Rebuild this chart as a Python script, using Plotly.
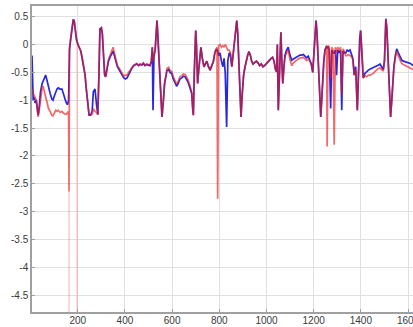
import plotly.graph_objects as go

# Sample positions shared by both series
x_vals = [
    6, 11, 15, 19, 24, 28, 32, 36, 42, 49, 53, 57, 64, 70, 76, 83, 90, 95, 101, 107,
    112, 117, 125, 133, 139, 146, 152, 157, 161,
    163, 165, 170, 176, 181, 185, 190, 195, 201, 207, 213, 218, 225, 231, 235, 239,
    243, 248, 254, 261, 266, 273, 280, 285, 290, 294, 300, 304, 308, 314, 318, 324,
    330, 338, 345, 350, 355, 362, 368, 375, 382, 388, 395, 402, 409, 416, 422, 430,
    437, 443, 450, 458, 464, 472, 478, 485, 492, 499, 506, 512, 516, 519, 523, 528,
    532, 536, 540, 545, 550, 557, 563, 568,
    578, 585, 591, 598, 605, 612, 619, 626, 633, 641, 648, 655, 661, 667, 675, 683,
    688, 690, 694, 698, 700, 703, 708, 713, 718, 722, 728, 735, 741, 747, 754, 761,
    768, 775, 781, 787, 790, 793, 797, 803, 809, 815, 820, 825, 831, 836, 842, 847,
    853, 858, 864, 870, 874, 878, 883, 888, 892, 897, 903, 909, 915, 921, 926, 932,
    937, 943, 950, 957, 964, 971, 978, 985, 992, 999, 1006, 1013, 1020, 1026, 1032,
    1038, 1043, 1046, 1050, 1055, 1061, 1065, 1069, 1074, 1078, 1085, 1092, 1100,
    1107, 1114, 1121, 1128, 1135, 1142, 1149, 1156, 1163, 1170, 1177, 1184, 1190,
    1196, 1202, 1206, 1210, 1214, 1219, 1224, 1230, 1234, 1238, 1243, 1248, 1252,
    1255, 1257, 1261, 1266, 1272, 1277, 1282, 1287, 1292, 1297, 1302, 1308, 1314,
    1319, 1324, 1330, 1336, 1342, 1348, 1354, 1360, 1366, 1372, 1378, 1385, 1390,
    1395, 1399, 1404, 1410, 1417, 1425, 1432, 1440, 1452, 1460, 1468, 1475, 1481,
    1488, 1495, 1500, 1503, 1506, 1510, 1516, 1521, 1526, 1531, 1536, 1540, 1546,
    1552, 1558, 1565, 1573, 1580, 1590, 1600, 1610, 1621,
]

blue_vals = [
    -0.2, -1.0, -0.95, -1.05, -1.0, -1.15, -1.27, -1.15, -0.85, -0.7, -0.65, -0.6, -0.55, -0.65, -0.78, -0.88, -0.98, -1.0, -0.92, -0.85,
    -0.8, -0.78, -0.8, -0.8, -0.9, -0.98, -1.05, -1.08, -1.0,
    -0.4, -0.1, 0.1, 0.35, 0.45, 0.42, 0.2, 0.08, 0.0, -0.05, -0.12, -0.23, -0.38, -0.55, -0.75, -0.94,
    -1.12, -1.27, -1.27, -1.2, -0.85, -0.8, -1.1, -1.26, -0.5, 0.28, 0.3, 0.2, -0.1, -0.55, -0.58, -0.4,
    -0.3, -0.22, -0.15, -0.12, -0.2, -0.32, -0.4, -0.45, -0.5, -0.56, -0.6, -0.62, -0.6, -0.54, -0.48, -0.42,
    -0.38, -0.37, -0.35, -0.38, -0.36, -0.37, -0.34, -0.38, -0.36, -0.37, -0.38, -0.3, -0.05, -1.18, -0.2, -0.1,
    0.2, 0.43, 0.1, -0.4, -0.9, -1.3, -1.0, -0.7,
    -0.47, -0.45, -0.5, -0.52, -0.62, -0.7, -0.75, -0.7, -0.62, -0.6, -0.57, -0.58, -0.62, -0.67, -0.77, -0.88,
    -1.2, -1.27, -0.5, 0.2, 0.25, 0.0, -0.7, -0.45, -0.15, -0.05, -0.25, -0.4, -0.35, -0.3, -0.4, -0.46,
    -0.38, -0.3, -0.15, -0.08, -0.1, -0.12, -0.2, -0.15, -0.3, -0.4, -0.25, -0.5, -1.48, -0.3, -0.15, -0.18,
    -0.4, -0.2, 0.1, 0.35, 0.43, 0.2, -0.4, -1.0, -1.3, -0.9, -0.55, -0.4, -0.28, -0.18, -0.13, -0.2,
    -0.3, -0.35, -0.32, -0.3, -0.33, -0.38, -0.35, -0.4, -0.38, -0.34, -0.32, -0.28, -0.25, -0.23, -0.3,
    -0.45, -0.49, 0.0, -1.18, -0.6, 0.22, -0.3, -0.7, -0.4, -0.2, -0.1, -0.05, -0.2,
    -0.28, -0.26, -0.24, -0.23, -0.21, -0.19, -0.19, -0.18, -0.21, -0.24, -0.21, -0.27, -0.35,
    -0.5, -0.1, 0.25, 0.43, 0.2, -0.2, -0.8, -1.3, -1.0, -0.6, -0.3, -0.1, -0.05,
    -0.03, -0.06, -0.05, -0.1, -1.15, -0.1, -0.15, -0.15, -0.1, -0.55, -0.1, -0.15, -0.1,
    -1.18, -0.12, -0.15, -0.15, -0.1, -0.12, -0.1, -0.2, -0.25, -0.55, -0.4, -1.18, -0.5,
    0.1, 0.25, -0.1, -0.6, -0.52, -0.48, -0.46, -0.44, -0.42, -0.4, -0.38, -0.37, -0.35,
    -0.4, -0.45, -0.3, 0.2, 0.46, 0.3, -0.3, -0.9, -1.3, -1.0, -0.6, -0.4, -0.2,
    -0.08, -0.14, -0.22, -0.28, -0.3, -0.31, -0.33, -0.34, -0.38,
]

red_vals = [
    -0.8, -0.88, -0.92, -0.95, -1.0, -1.15, -1.3, -1.2, -0.95, -0.78, -0.75, -0.82, -0.95, -1.05, -1.15, -1.2, -1.27, -1.28, -1.22, -1.18,
    -1.2, -1.18, -1.22, -1.2, -1.23, -1.25, -1.25, -1.22, -1.2,
    -2.64, -0.05, 0.1, 0.35, 0.45, 0.42, 0.2, 0.08, 0.0, -0.05, -0.12, -0.23, -0.38, -0.55, -0.75, -0.94,
    -1.12, -1.27, -1.27, -1.25, -1.15, -1.2, -1.22, -1.26, -0.5, 0.28, 0.3, 0.2, -0.1, -0.55, -0.58, -0.4,
    -0.28, -0.18, -0.1, -0.05, -0.15, -0.3, -0.38, -0.42, -0.48, -0.54, -0.57, -0.55, -0.55, -0.5, -0.46, -0.4,
    -0.37, -0.36, -0.34, -0.37, -0.35, -0.36, -0.33, -0.37, -0.35, -0.36, -0.37, -0.3, -0.05, -0.3, -0.2, -0.1,
    0.2, 0.43, 0.1, -0.4, -0.9, -1.3, -1.0, -0.7,
    -0.43, -0.41, -0.46, -0.48, -0.58, -0.66, -0.71, -0.66, -0.58, -0.56, -0.53, -0.54, -0.58, -0.63, -0.73, -0.86,
    -1.2, -1.27, -0.5, 0.2, 0.25, 0.0, -0.7, -0.45, -0.15, -0.05, -0.25, -0.4, -0.35, -0.3, -0.4, -0.46,
    -0.38, -0.3, -0.15, -0.05, -0.05, -2.77, -0.02, 0.0, -0.05, -0.02, -0.05, 0.0, -0.05, -0.1, -0.1, -0.15,
    -0.4, -0.2, 0.1, 0.35, 0.43, 0.2, -0.4, -1.0, -1.3, -0.9, -0.55, -0.4, -0.28, -0.18, -0.13, -0.2,
    -0.3, -0.35, -0.32, -0.3, -0.33, -0.38, -0.35, -0.4, -0.38, -0.34, -0.32, -0.28, -0.25, -0.23, -0.3,
    -0.45, -0.49, 0.0, -1.18, -0.6, 0.22, -0.3, -0.7, -0.4, -0.24, -0.15, -0.1, -0.28,
    -0.38, -0.33, -0.3, -0.28, -0.26, -0.24, -0.24, -0.23, -0.26, -0.29, -0.26, -0.3, -0.37,
    -0.5, -0.1, 0.25, 0.43, 0.2, -0.2, -0.8, -1.3, -1.0, -0.6, -0.3, -0.1, -0.05,
    -0.02, -1.83, -0.02, -0.05, -0.6, -0.05, -0.1, -1.8, -0.05, -0.15, -0.05, -0.1, -0.05,
    -0.9, -0.08, -0.12, -0.2, -0.2, -0.18, -0.2, -0.22, -0.27, -0.55, -0.45, -1.18, -0.5,
    0.1, 0.25, -0.1, -0.6, -0.56, -0.58, -0.55, -0.55, -0.52, -0.48, -0.45, -0.43, -0.42,
    -0.45, -0.48, -0.3, 0.2, 0.46, 0.3, -0.3, -0.9, -1.3, -1.0, -0.6, -0.42, -0.25,
    -0.12, -0.2, -0.28, -0.34, -0.36, -0.38, -0.4, -0.42, -0.45,
]

# Deep single-sample drops of the red series that run off the bottom of the axes
red_drop_x = [163, 163, None, 197, 197]
red_drop_y = [-2.64, -5.2, None, 0.05, -5.2]

y_tick_vals = [0.5, 0, -0.5, -1, -1.5, -2, -2.5, -3, -3.5, -4, -4.5]
y_tick_text = ["0.5", "0", "-0.5", "-1", "-1.5", "-2", "-2.5", "-3", "-3.5", "-4", "-4.5"]
x_tick_vals = [200, 400, 600, 800, 1000, 1200, 1400, 1600]
x_tick_text = ["200", "400", "600", "800", "1000", "1200", "1400", "1600"]

fig = go.Figure()
fig.add_trace(go.Scatter(
    x=red_drop_x, y=red_drop_y, mode="lines",
    line=dict(color="rgba(240,110,110,0.55)", width=1), hoverinfo="skip",
))
fig.add_trace(go.Scatter(
    x=x_vals, y=blue_vals, mode="lines",
    line=dict(color="rgb(40,40,225)", width=1.7),
))
fig.add_trace(go.Scatter(
    x=x_vals, y=red_vals, mode="lines",
    line=dict(color="rgba(235,25,25,0.65)", width=1.7),
))

axis_common = dict(
    showgrid=True, gridcolor="#e0e0e0", gridwidth=1,
    showline=True, linecolor="#a0a0a0", linewidth=1.5, mirror=True,
    ticks="inside", ticklen=3, tickcolor="#a0a0a0",
    zeroline=False, automargin=False, ticklabeloverflow="allow",
    tickfont=dict(family="Liberation Sans, Arial, sans-serif", size=10, color="#3a3a3a"),
)

fig.update_layout(
    width=413, height=327,
    margin=dict(l=32, r=0, t=6, b=15, pad=0),
    paper_bgcolor="white", plot_bgcolor="white",
    showlegend=False,
    xaxis=dict(range=[6, 1621], tickmode="array", tickvals=x_tick_vals,
               ticktext=x_tick_text, ticklabelstandoff=-2, **axis_common),
    yaxis=dict(range=[-4.8, 0.69], tickmode="array", tickvals=y_tick_vals,
               ticktext=y_tick_text, **axis_common),
)

fig.write_html("out.html")
